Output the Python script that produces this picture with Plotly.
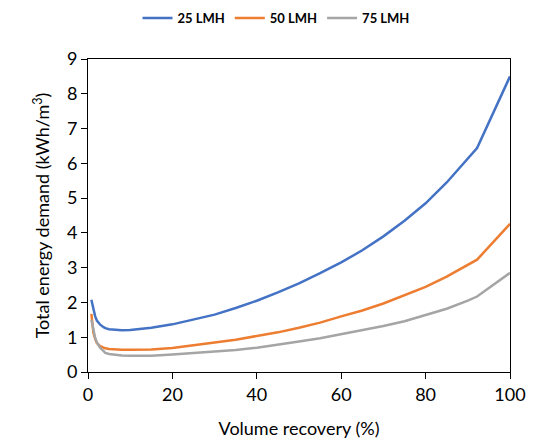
import plotly.graph_objects as go

# Volume recovery (%)
recovery = [0.8, 1.3, 1.7, 2.1, 2.9, 3.7, 4.1, 5, 6.5, 8, 10, 15, 20, 25, 30, 35, 40, 45, 50,
            55, 60, 65, 70, 75, 80, 85, 90, 92.2, 100]

# Total energy demand (kWh/m3)
lmh25 = [2.08, 1.80, 1.60, 1.48, 1.36, 1.29, 1.26, 1.23, 1.21, 1.20, 1.21, 1.27, 1.37, 1.50, 1.65,
         1.84, 2.05, 2.29, 2.55, 2.84, 3.15, 3.50, 3.90, 4.35, 4.85, 5.45, 6.12, 6.44, 8.50]
lmh50 = [1.67, 1.12, 0.95, 0.83, 0.74, 0.69, 0.68, 0.66, 0.645, 0.64, 0.64, 0.65, 0.69, 0.76, 0.85,
         0.93, 1.03, 1.14, 1.27, 1.42, 1.60, 1.77, 1.97, 2.20, 2.45, 2.74, 3.08, 3.23, 4.26]
lmh75 = [1.50, 1.15, 0.98, 0.85, 0.69, 0.60, 0.55, 0.52, 0.49, 0.475, 0.47, 0.47, 0.50, 0.54, 0.58,
         0.63, 0.70, 0.78, 0.88, 0.97, 1.08, 1.19, 1.32, 1.46, 1.63, 1.82, 2.05, 2.17, 2.85]

series_names = ["25 LMH", "50 LMH", "75 LMH"]
series_colors = ["#4472C4", "#ED7D31", "#A5A5A5"]

FONT = "Lato, 'Open Sans', sans-serif"
W, H = 530, 439  # page body adds an 8px offset

fig = go.Figure()
for name, vals, col in zip(series_names, [lmh25, lmh50, lmh75], series_colors):
    fig.add_trace(go.Scatter(x=recovery, y=vals, mode="lines", name=name,
                             line=dict(color=col, width=2.5)))

fig.update_layout(
    width=W, height=H,
    margin=dict(l=80, r=28, t=51, b=75, autoexpand=False),
    paper_bgcolor="white", plot_bgcolor="white",
    font=dict(family=FONT, color="#000000"),
    showlegend=True,
    legend=dict(orientation="h", xref="container", yref="container",
                x=268 / W, xanchor="center", y=1 - 10 / H, yanchor="middle",
                font=dict(size=13, family=FONT, weight="bold"), bgcolor="rgba(0,0,0,0)",
                itemwidth=30),
    xaxis=dict(range=[0, 100], dtick=20, showgrid=False, zeroline=False, automargin=False,
               showline=True, linecolor="black", linewidth=1, mirror=True,
               ticks="outside", ticklen=6, tickcolor="black",
               tickfont=dict(size=18, family=FONT),
               title=dict(text="Volume recovery (%)", font=dict(size=18, family=FONT), standoff=18)),
    yaxis=dict(range=[0, 9], dtick=1, showgrid=False, zeroline=False, automargin=False,
               showline=True, linecolor="black", linewidth=1, mirror=True,
               ticks="outside", ticklen=6, tickcolor="black",
               tickfont=dict(size=18, family=FONT),
               title=dict(text="Total energy demand (kWh/m<sup>3</sup>)", font=dict(size=18, family=FONT), standoff=12)),
)

fig.write_html("out.html")
